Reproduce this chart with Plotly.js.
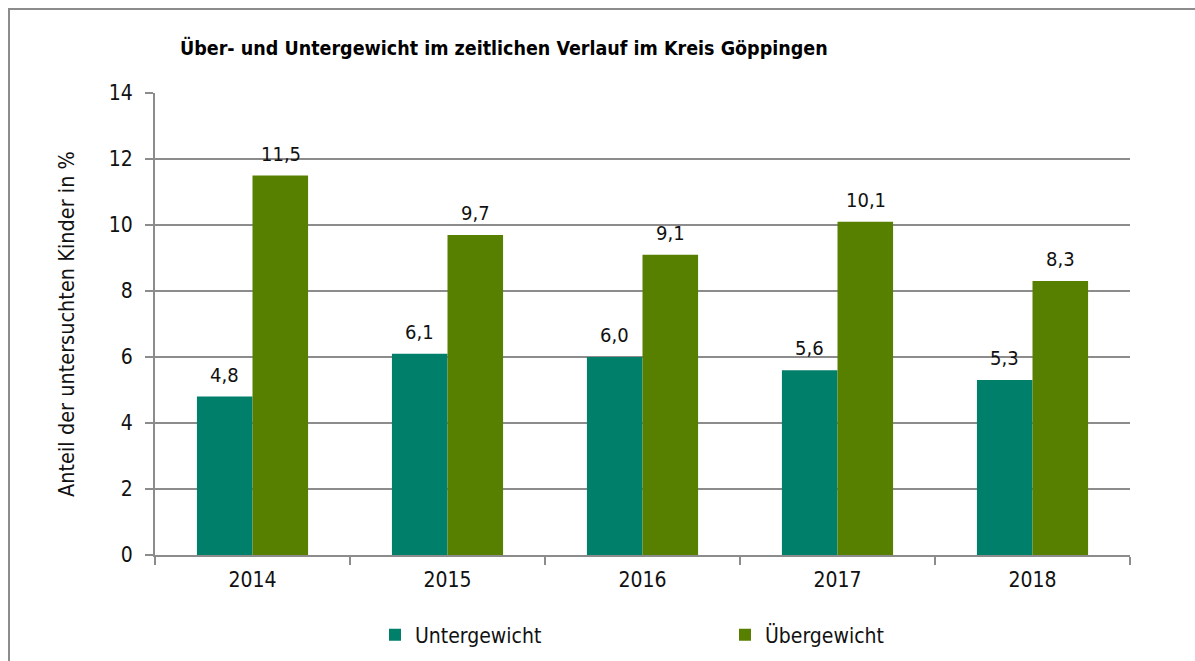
<!DOCTYPE html>
<html>
<head>
<meta charset="utf-8">
<script src="https://cdn.plot.ly/plotly-3.0.1.min.js"></script>
<style>html,body{margin:0;padding:0;background:#fff;}#chart{width:1195px;height:661px;}</style>
</head>
<body>
<div id="chart"></div>
<script>
const years = ["2014", "2015", "2016", "2017", "2018"];
const untergewicht = [4.8, 6.1, 6.0, 5.6, 5.3];
const uebergewicht = [11.5, 9.7, 9.1, 10.1, 8.3];
const labelsUnter = ["4,8", "6,1", "6,0", "5,6", "5,3"];
const labelsUeber = ["11,5", "9,7", "9,1", "10,1", "8,3"];

const FONT = '"DejaVu Sans Condensed", "Liberation Sans Narrow", "Liberation Sans", sans-serif';

const traces = [
  {type: 'bar', name: 'Untergewicht', x: years, y: untergewicht,
   marker: {color: '#007F6B'}, hoverinfo: 'skip'},
  {type: 'bar', name: 'Übergewicht', x: years, y: uebergewicht,
   marker: {color: '#588000'}, hoverinfo: 'skip'}
];

const annotations = [];
years.forEach((yr, i) => {
  // category index i (annotation x on a category axis given as its index)
  annotations.push({x: i, y: untergewicht[i], text: labelsUnter[i], xref: 'x', yref: 'y',
    xshift: -28, yshift: 8, yanchor: 'bottom', showarrow: false, font: {family: FONT, size: 20, color: '#111'}});
  annotations.push({x: i, y: uebergewicht[i], text: labelsUeber[i], xref: 'x', yref: 'y',
    xshift: 28, yshift: 8, yanchor: 'bottom', showarrow: false, font: {family: FONT, size: 20, color: '#111'}});
});

const layout = {
  width: 1195, height: 661,
  margin: {l: 155, r: 65, t: 93, b: 106},
  paper_bgcolor: '#fff', plot_bgcolor: '#fff',
  font: {family: FONT, size: 20, color: '#111'},
  title: {text: 'Über- und Untergewicht im zeitlichen Verlauf im Kreis Göppingen',
    font: {family: FONT, size: 19.5, color: '#000', weight: 'bold'},
    x: 180/1195, xref: 'container', xanchor: 'left', y: 1 - 48/661, yref: 'container', yanchor: 'middle'},
  barmode: 'group', bargap: 0.43, bargroupgap: 0,
  xaxis: {type: 'category', range: [-0.5, 4.5], showgrid: false, showline: true, linecolor: '#8c8c8c', linewidth: 2,
    ticks: 'outside', tickson: 'boundaries', ticklen: 8, tickcolor: '#8c8c8c', tickwidth: 2, ticklabelstandoff: 5,
    tickfont: {family: FONT, size: 21, color: '#111'}, zeroline: false, automargin: false},
  yaxis: {range: [0, 14], dtick: 2, showgrid: true, gridcolor: '#8c8c8c', gridwidth: 2,
    showline: true, linecolor: '#8c8c8c', linewidth: 2, ticks: 'outside', ticklen: 8,
    tickcolor: '#8c8c8c', tickwidth: 2, zeroline: false, ticklabelstandoff: 8, automargin: false,
    tickfont: {family: FONT, size: 21, color: '#111'},
    title: {text: 'Anteil der untersuchten Kinder in %', font: {family: FONT, size: 21.5, color: '#111'}, standoff: 28}},
  showlegend: true,
  legend: {orientation: 'h', x: 375/1195, xref: 'container', xanchor: 'left',
    y: 1 - 635/661, yref: 'container', yanchor: 'middle',
    entrywidth: 305, entrywidthmode: 'pixels', itemwidth: 30,
    font: {family: FONT, size: 21, color: '#111'}, bgcolor: 'rgba(0,0,0,0)'},
  annotations: annotations,
  shapes: [{type: 'rect', xref: 'paper', yref: 'paper',
    x0: (9-155)/975, x1: 1.2, y0: -0.5, y1: 1 + (93-9)/462,
    line: {color: '#8c8c8c', width: 2}, layer: 'below'}]
};

Plotly.newPlot('chart', traces, layout, {displayModeBar: false, staticPlot: true});
</script>
</body>
</html>
